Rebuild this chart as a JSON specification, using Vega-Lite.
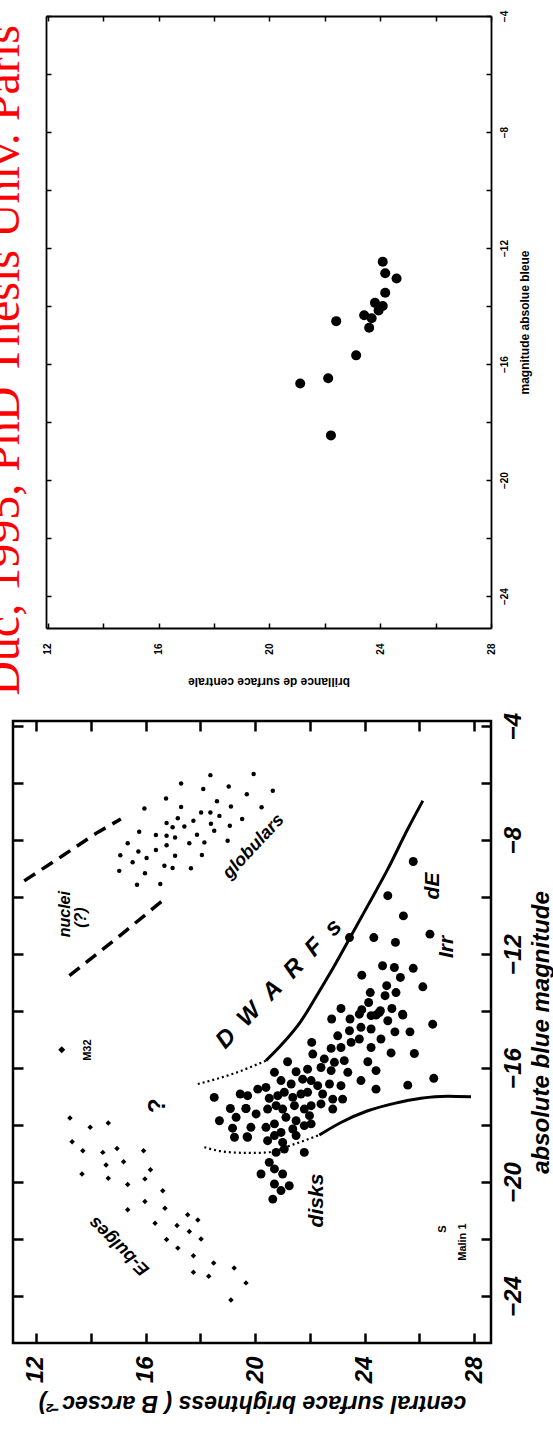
{
  "$schema": "https://vega.github.io/schema/vega-lite/v6.json",
  "background": "white",
  "padding": {"left": -20, "right": 0, "top": 10, "bottom": 6},
  "spacing": 15,
  "config": {"font": "Liberation Sans", "axis": {"tickColor": "black", "labelColor": "black", "titleColor": "black", "domainColor": "black", "grid": false, "domain": false, "labelFlush": false, "labelOverlap": false}},
  "datasets": {
    "fr": [
      {"x": 24.09, "y": -12.47}, {"x": 24.18, "y": -12.87}, {"x": 24.59, "y": -13.05}, {"x": 24.18, "y": -13.54},
      {"x": 23.81, "y": -13.89}, {"x": 24.09, "y": -14.0}, {"x": 23.94, "y": -14.15}, {"x": 23.42, "y": -14.32},
      {"x": 23.69, "y": -14.42}, {"x": 23.6, "y": -14.75}, {"x": 22.41, "y": -14.52}, {"x": 23.13, "y": -15.7},
      {"x": 21.11, "y": -16.67}, {"x": 22.12, "y": -16.49}, {"x": 22.22, "y": -18.46}
    ],
    "glob": [
      {"x": 18.37, "y": -5.72}, {"x": 17.3, "y": -6.01}, {"x": 18.11, "y": -6.21}, {"x": 19.04, "y": -6.12},
      {"x": 19.7, "y": -6.39}, {"x": 16.75, "y": -6.54}, {"x": 18.61, "y": -6.64}, {"x": 19.12, "y": -6.82},
      {"x": 17.3, "y": -6.84}, {"x": 15.96, "y": -6.89}, {"x": 18.03, "y": -7.03}, {"x": 18.37, "y": -7.03},
      {"x": 18.7, "y": -7.15}, {"x": 17.18, "y": -7.23}, {"x": 17.75, "y": -7.32}, {"x": 19.53, "y": -7.26},
      {"x": 16.77, "y": -7.4}, {"x": 18.39, "y": -7.43}, {"x": 16.99, "y": -7.55}, {"x": 17.42, "y": -7.52},
      {"x": 15.77, "y": -7.71}, {"x": 18.51, "y": -7.67}, {"x": 19.08, "y": -7.5}, {"x": 16.38, "y": -7.82},
      {"x": 16.77, "y": -7.85}, {"x": 17.08, "y": -7.91}, {"x": 17.88, "y": -7.81}, {"x": 15.35, "y": -8.11},
      {"x": 17.6, "y": -8.11}, {"x": 18.15, "y": -8.08}, {"x": 16.77, "y": -8.18}, {"x": 16.38, "y": -8.35},
      {"x": 15.74, "y": -8.4}, {"x": 15.08, "y": -8.53}, {"x": 17.08, "y": -8.55}, {"x": 18.06, "y": -8.52},
      {"x": 16.04, "y": -8.63}, {"x": 15.53, "y": -8.78}, {"x": 16.69, "y": -8.9}, {"x": 16.99, "y": -8.98},
      {"x": 17.66, "y": -8.99}, {"x": 15.04, "y": -9.08}, {"x": 15.98, "y": -9.16}, {"x": 15.69, "y": -9.57},
      {"x": 16.54, "y": -9.54}, {"x": 19.0, "y": -8.02}, {"x": 19.95, "y": -5.68}, {"x": 20.65, "y": -6.27},
      {"x": 20.24, "y": -6.85}
    ],
    "ebulge": [
      {"x": 13.24, "y": -17.75}, {"x": 13.98, "y": -18.08}, {"x": 14.64, "y": -17.93}, {"x": 13.32, "y": -18.59},
      {"x": 13.71, "y": -18.9}, {"x": 14.44, "y": -18.96}, {"x": 14.96, "y": -18.82}, {"x": 15.93, "y": -18.9},
      {"x": 14.56, "y": -19.4}, {"x": 15.2, "y": -19.29}, {"x": 13.68, "y": -19.72}, {"x": 14.64, "y": -19.87},
      {"x": 16.18, "y": -19.57}, {"x": 15.35, "y": -20.09}, {"x": 15.98, "y": -19.89}, {"x": 16.63, "y": -20.31},
      {"x": 15.98, "y": -20.68}, {"x": 15.35, "y": -20.97}, {"x": 16.71, "y": -20.92}, {"x": 17.54, "y": -21.15},
      {"x": 17.91, "y": -21.33}, {"x": 16.35, "y": -21.45}, {"x": 17.15, "y": -21.53}, {"x": 17.6, "y": -21.74},
      {"x": 18.03, "y": -22.0}, {"x": 16.77, "y": -22.02}, {"x": 17.18, "y": -22.32}, {"x": 17.75, "y": -22.59},
      {"x": 18.49, "y": -22.84}, {"x": 19.24, "y": -23.02}, {"x": 17.75, "y": -23.17}, {"x": 18.31, "y": -23.31},
      {"x": 19.67, "y": -23.54}, {"x": 19.12, "y": -24.14}
    ],
    "m32": [{"x": 12.94, "y": -15.36}],
    "dwarf": [
      {"x": 25.78, "y": -8.75}, {"x": 24.85, "y": -9.95}, {"x": 25.42, "y": -10.66}, {"x": 24.34, "y": -11.42},
      {"x": 23.45, "y": -11.42}, {"x": 25.13, "y": -11.59}, {"x": 26.39, "y": -11.3}, {"x": 24.66, "y": -12.41},
      {"x": 25.09, "y": -12.47}, {"x": 25.78, "y": -12.5}, {"x": 23.9, "y": -12.74}, {"x": 25.31, "y": -12.82},
      {"x": 26.13, "y": -13.15}, {"x": 24.81, "y": -13.11}, {"x": 24.21, "y": -13.35}, {"x": 25.15, "y": -13.35},
      {"x": 24.75, "y": -13.46}, {"x": 24.15, "y": -13.7}, {"x": 23.14, "y": -13.91}, {"x": 24.58, "y": -13.99},
      {"x": 25.0, "y": -13.91}, {"x": 25.39, "y": -14.11}, {"x": 24.42, "y": -14.14}, {"x": 23.9, "y": -13.95},
      {"x": 22.8, "y": -14.28}, {"x": 23.47, "y": -14.28}, {"x": 23.81, "y": -14.11}, {"x": 24.24, "y": -14.16},
      {"x": 24.54, "y": -14.05}, {"x": 24.85, "y": -14.34}, {"x": 25.4, "y": -14.14}, {"x": 26.49, "y": -14.46},
      {"x": 25.11, "y": -14.73}, {"x": 25.66, "y": -14.73}, {"x": 24.6, "y": -14.98}, {"x": 24.24, "y": -14.63},
      {"x": 23.87, "y": -14.57}, {"x": 23.45, "y": -14.69}, {"x": 23.02, "y": -14.87}, {"x": 22.07, "y": -15.1},
      {"x": 22.78, "y": -15.31}, {"x": 23.14, "y": -15.28}, {"x": 23.51, "y": -15.1}, {"x": 23.81, "y": -14.98},
      {"x": 24.24, "y": -15.28}, {"x": 24.97, "y": -15.47}, {"x": 25.82, "y": -15.49}, {"x": 22.11, "y": -15.51},
      {"x": 21.19, "y": -15.78}, {"x": 22.53, "y": -15.68}, {"x": 22.9, "y": -15.8}, {"x": 23.26, "y": -15.74},
      {"x": 24.12, "y": -15.78}, {"x": 20.71, "y": -16.15}, {"x": 21.5, "y": -16.13}, {"x": 21.92, "y": -16.04},
      {"x": 22.41, "y": -15.98}, {"x": 22.78, "y": -16.09}, {"x": 23.39, "y": -16.15}, {"x": 24.42, "y": -16.09},
      {"x": 23.87, "y": -16.44}, {"x": 24.42, "y": -16.74}, {"x": 25.58, "y": -16.6}, {"x": 26.53, "y": -16.36},
      {"x": 20.1, "y": -16.74}, {"x": 20.4, "y": -16.68}, {"x": 20.95, "y": -16.44}, {"x": 21.32, "y": -16.56},
      {"x": 21.74, "y": -16.39}, {"x": 22.05, "y": -16.44}, {"x": 22.29, "y": -16.62}, {"x": 22.72, "y": -16.56},
      {"x": 23.14, "y": -16.62}, {"x": 19.73, "y": -16.97}, {"x": 20.52, "y": -17.06}, {"x": 20.83, "y": -16.97},
      {"x": 21.07, "y": -16.85}, {"x": 21.38, "y": -17.03}, {"x": 21.68, "y": -16.91}, {"x": 21.92, "y": -16.85},
      {"x": 22.47, "y": -16.91}, {"x": 22.84, "y": -17.09}, {"x": 23.2, "y": -17.09}, {"x": 19.67, "y": -17.42},
      {"x": 20.04, "y": -17.61}, {"x": 20.46, "y": -17.44}, {"x": 20.77, "y": -17.32}, {"x": 21.01, "y": -17.44},
      {"x": 21.44, "y": -17.32}, {"x": 21.8, "y": -17.44}, {"x": 22.05, "y": -17.32}, {"x": 22.41, "y": -17.26},
      {"x": 22.84, "y": -17.44}, {"x": 19.85, "y": -18.08}, {"x": 20.4, "y": -18.08}, {"x": 20.71, "y": -17.96},
      {"x": 21.13, "y": -17.73}, {"x": 21.5, "y": -17.85}, {"x": 21.99, "y": -17.67}, {"x": 20.95, "y": -18.26},
      {"x": 20.71, "y": -18.37}, {"x": 21.38, "y": -18.14}, {"x": 21.8, "y": -18.02}, {"x": 22.05, "y": -17.96},
      {"x": 19.73, "y": -18.43}, {"x": 20.46, "y": -18.55}, {"x": 21.01, "y": -18.61}, {"x": 21.5, "y": -18.37},
      {"x": 21.8, "y": -18.96}, {"x": 20.77, "y": -18.96}, {"x": 21.07, "y": -18.84}, {"x": 20.52, "y": -19.31},
      {"x": 20.71, "y": -19.54}, {"x": 20.22, "y": -19.72}, {"x": 21.01, "y": -19.72}, {"x": 21.25, "y": -20.13},
      {"x": 20.71, "y": -20.07}, {"x": 20.95, "y": -20.3}, {"x": 20.65, "y": -20.6},
      {"x": 18.51, "y": -17.03}, {"x": 19.46, "y": -16.91}, {"x": 19.1, "y": -17.42}, {"x": 19.67, "y": -17.42},
      {"x": 18.7, "y": -17.85}, {"x": 19.31, "y": -17.73}, {"x": 19.18, "y": -18.11}, {"x": 19.25, "y": -18.43},
      {"x": 19.71, "y": -18.41}
    ],
    "solid": [
      {"seg": "upper", "i": 0, "x": 20.4, "y": -15.74}, {"seg": "upper", "i": 1, "x": 21.0, "y": -15.15},
      {"seg": "upper", "i": 2, "x": 21.68, "y": -14.35}, {"seg": "upper", "i": 3, "x": 22.29, "y": -13.4},
      {"seg": "upper", "i": 4, "x": 22.9, "y": -12.41}, {"seg": "upper", "i": 5, "x": 23.51, "y": -11.36},
      {"seg": "upper", "i": 6, "x": 24.12, "y": -10.3}, {"seg": "upper", "i": 7, "x": 24.85, "y": -9.02},
      {"seg": "upper", "i": 8, "x": 25.58, "y": -7.61}, {"seg": "upper", "i": 9, "x": 26.13, "y": -6.62},
      {"seg": "lower", "i": 0, "x": 22.35, "y": -18.35}, {"seg": "lower", "i": 1, "x": 23.14, "y": -17.91},
      {"seg": "lower", "i": 2, "x": 24.12, "y": -17.5}, {"seg": "lower", "i": 3, "x": 25.09, "y": -17.24},
      {"seg": "lower", "i": 4, "x": 26.06, "y": -17.06}, {"seg": "lower", "i": 5, "x": 27.04, "y": -16.99},
      {"seg": "lower", "i": 6, "x": 27.89, "y": -17.01}
    ],
    "dotted": [
      {"seg": "upper", "i": 0, "x": 17.91, "y": -16.56}, {"seg": "upper", "i": 1, "x": 19.2, "y": -16.2},
      {"seg": "upper", "i": 2, "x": 20.4, "y": -15.74},
      {"seg": "lower", "i": 0, "x": 18.15, "y": -18.78}, {"seg": "lower", "i": 1, "x": 19.0, "y": -18.95},
      {"seg": "lower", "i": 2, "x": 19.85, "y": -18.98}, {"seg": "lower", "i": 3, "x": 20.46, "y": -18.96},
      {"seg": "lower", "i": 4, "x": 21.44, "y": -18.67}, {"seg": "lower", "i": 5, "x": 22.35, "y": -18.35}
    ],
    "dashed": [
      {"seg": "upper", "i": 0, "x": 11.57, "y": -9.43}, {"seg": "upper", "i": 1, "x": 12.97, "y": -8.55},
      {"seg": "upper", "i": 2, "x": 14.25, "y": -7.73}, {"seg": "upper", "i": 3, "x": 15.1, "y": -7.26},
      {"seg": "lower", "i": 0, "x": 13.22, "y": -12.76}, {"seg": "lower", "i": 1, "x": 14.98, "y": -11.42},
      {"seg": "lower", "i": 2, "x": 16.77, "y": -10.01}
    ],
    "labels": [
      {"label": "globulars", "x": 19.95, "y": -8.23},
      {"label": "E-bulges", "x": 15.04, "y": -22.24},
      {"label": "D\u00a0\u00a0W\u00a0\u00a0A\u00a0\u00a0R\u00a0\u00a0F\u00a0\u00a0s", "x": 20.88, "y": -13.05},
      {"label": "dE", "x": 26.5, "y": -9.61},
      {"label": "Irr", "x": 27.01, "y": -11.75},
      {"label": "disks", "x": 22.25, "y": -20.65},
      {"label": "?", "x": 16.44, "y": -17.32},
      {"label": "nuclei", "x": 13.06, "y": -10.6},
      {"label": "(?)", "x": 13.64, "y": -10.72},
      {"label": "M32", "x": 13.9, "y": -15.37},
      {"label": "Malin 1", "x": 27.6, "y": -22.11},
      {"label": "S", "x": 26.86, "y": -21.65}
    ]
  },
  "vconcat": [
    {
      "width": 478,
      "height": 612,
      "view": {"stroke": null},
      "data": {"name": "fr"},
      "layer": [
        {
          "mark": {"type": "circle", "size": 100, "color": "black", "opacity": 1},
          "encoding": {
            "x": {"field": "x", "type": "quantitative", "scale": {"domain": [11.93, 28], "range": [33, 478], "nice": false, "zero": false},
              "axis": {"orient": "bottom", "values": [12, 14, 16, 18, 20, 22, 24, 26, 28], "labelExpr": "datum.value % 4 === 0 ? datum.label : ''",
                "domain": true, "domainWidth": 1.8,
                "labelAngle": -90, "labelAlign": "right", "labelBaseline": "middle", "labelFontSize": 10, "labelFontWeight": "bold", "labelPadding": 20,
                "tickSize": -5, "tickWidth": 1.5, "title": "brillance de surface centrale", "titleAngle": 180, "titleBaseline": "bottom",
                "titleFontSize": 12, "titleFontWeight": "bold", "titlePadding": 20}},
            "y": {"field": "y", "type": "quantitative", "scale": {"domain": [-25.1, -4], "nice": false, "zero": false},
              "axis": {"orient": "right", "values": [-24, -22, -20, -18, -16, -14, -12, -10, -8, -6, -4], "labelExpr": "datum.value % 4 === 0 ? datum.label : ''",
                "domain": true, "domainWidth": 1.8,
                "labelAngle": -90, "labelAlign": "center", "labelBaseline": "top", "labelFontSize": 10, "labelFontWeight": "bold", "labelPadding": 13,
                "tickSize": -5, "tickWidth": 1.5, "title": "magnitude absolue bleue", "titleAngle": 270, "titleBaseline": "top",
                "titleFontSize": 12, "titleFontWeight": "bold", "titlePadding": 10}}
          }
        },
        {
          "mark": {"type": "point", "opacity": 0},
          "encoding": {
            "x": {"field": "x", "type": "quantitative", "scale": {"domain": [11.93, 28], "range": [33, 478], "nice": false, "zero": false},
              "axis": {"orient": "top", "values": [12, 14, 16, 18, 20, 22, 24, 26, 28], "labels": false, "domain": true, "domainWidth": 1.8, "tickSize": -5, "tickWidth": 1.5, "title": null}},
            "y": {"field": "y", "type": "quantitative", "scale": {"domain": [-25.1, -4], "nice": false, "zero": false},
              "axis": {"orient": "left", "offset": -33, "values": [-24, -22, -20, -18, -16, -14, -12, -10, -8, -6, -4], "labels": false,
                "domain": true, "domainWidth": 1.8, "tickSize": -5, "tickWidth": 1.5,
                "title": "Duc, 1995, PhD Thesis Univ. Paris", "titleColor": "#ff0000", "titleFont": "Liberation Serif", "titleFontSize": 48,
                "titleFontWeight": "normal", "titlePadding": 17, "titleY": 344, "titleAlign": "center"}}
          }
        }
      ]
    },
    {
      "width": 478,
      "height": 622,
      "view": {"stroke": "black", "strokeWidth": 2.5},
      "encoding": {
        "x": {"field": "x", "type": "quantitative", "scale": {"domain": [11.16, 28.62], "nice": false, "zero": false}, "axis": null},
        "y": {"field": "y", "type": "quantitative", "scale": {"domain": [-25.65, -3.82], "nice": false, "zero": false}, "axis": null}
      },
      "layer": [
        {
          "data": {"name": "glob"},
          "mark": {"type": "circle", "size": 20, "color": "black", "opacity": 1},
          "encoding": {
            "x": {"field": "x", "type": "quantitative", "scale": {"domain": [11.16, 28.62], "nice": false, "zero": false},
              "axis": {"orient": "bottom", "values": [12, 14, 16, 18, 20, 22, 24, 26, 28], "labelExpr": "datum.value % 4 === 0 ? datum.label : ''",
                "labelAngle": -90, "labelAlign": "right", "labelBaseline": "middle", "labelFontSize": 24, "labelFontWeight": "bold", "labelFontStyle": "italic", "labelPadding": 23,
                "tickSize": -10, "tickWidth": 2.5, "title": "central surface brightness ( B arcsec⁻²)", "titleAngle": 180, "titleBaseline": "bottom",
                "titleFontSize": 23, "titleFontWeight": "bold", "titleFontStyle": "italic", "titlePadding": 8}},
            "y": {"field": "y", "type": "quantitative", "scale": {"domain": [-25.65, -3.82], "nice": false, "zero": false},
              "axis": {"orient": "right", "values": [-24, -22, -20, -18, -16, -14, -12, -10, -8, -6, -4], "labelExpr": "datum.value % 4 === 0 ? datum.label : ''",
                "labelAngle": -90, "labelAlign": "center", "labelBaseline": "top", "labelFontSize": 24, "labelFontWeight": "bold", "labelFontStyle": "italic", "labelPadding": 20,
                "tickSize": -10, "tickWidth": 2.5, "title": "absolute blue magnitude", "titleAngle": 270, "titleBaseline": "top",
                "titleFontSize": 24, "titleFontWeight": "bold", "titleFontStyle": "italic", "titlePadding": 4}}
          }
        },
        {
          "data": {"name": "ebulge"},
          "mark": {"type": "point", "shape": "diamond", "filled": true, "size": 30, "color": "black", "opacity": 1},
          "encoding": {
            "x": {"field": "x", "type": "quantitative", "scale": {"domain": [11.16, 28.62], "nice": false, "zero": false},
              "axis": {"orient": "top", "values": [12, 14, 16, 18, 20, 22, 24, 26, 28], "labels": false, "tickSize": -10, "tickWidth": 2.5, "title": null}},
            "y": {"field": "y", "type": "quantitative", "scale": {"domain": [-25.65, -3.82], "nice": false, "zero": false},
              "axis": {"orient": "left", "values": [-24, -22, -20, -18, -16, -14, -12, -10, -8, -6, -4], "labels": false, "tickSize": -10, "tickWidth": 2.5, "title": null}}
          }
        },
        {"data": {"name": "dwarf"}, "mark": {"type": "circle", "size": 80, "color": "black", "opacity": 1}},
        {"data": {"name": "m32"}, "mark": {"type": "point", "shape": "diamond", "filled": true, "size": 50, "color": "black", "opacity": 1}},
        {"data": {"name": "solid"}, "mark": {"type": "line", "color": "black", "strokeWidth": 3, "interpolate": "monotone"},
          "encoding": {"detail": {"field": "seg"}, "order": {"field": "i"}}},
        {"data": {"name": "dotted"}, "mark": {"type": "line", "color": "black", "strokeWidth": 2.2, "strokeDash": [2, 3], "interpolate": "monotone"},
          "encoding": {"detail": {"field": "seg"}, "order": {"field": "i"}}},
        {"data": {"name": "dashed"}, "mark": {"type": "line", "color": "black", "strokeWidth": 3.5, "strokeDash": [13, 8]},
          "encoding": {"detail": {"field": "seg"}, "order": {"field": "i"}}},
        {"data": {"name": "labels"}, "transform": [{"filter": {"field": "label", "oneOf": ["dE", "Irr", "disks"]}}],
          "mark": {"type": "text", "angle": 270, "fontSize": 21, "fontStyle": "italic", "fontWeight": "bold", "color": "black", "align": "center", "baseline": "middle"},
          "encoding": {"text": {"field": "label"}}},
        {"data": {"name": "labels"}, "transform": [{"filter": {"field": "label", "oneOf": ["?"]}}],
          "mark": {"type": "text", "angle": 270, "fontSize": 24, "fontWeight": "bold", "color": "black", "align": "center", "baseline": "middle"},
          "encoding": {"text": {"field": "label"}}},
        {"data": {"name": "labels"}, "transform": [{"filter": {"field": "label", "oneOf": ["nuclei", "(?)"]}}],
          "mark": {"type": "text", "angle": 270, "fontSize": 16, "fontStyle": "italic", "fontWeight": "bold", "color": "black", "align": "center", "baseline": "middle"},
          "encoding": {"text": {"field": "label"}}},
        {"data": {"name": "labels"}, "transform": [{"filter": {"field": "label", "oneOf": ["M32", "Malin 1", "S"]}}],
          "mark": {"type": "text", "angle": 270, "fontSize": 11, "fontWeight": "bold", "color": "black", "align": "center", "baseline": "middle"},
          "encoding": {"text": {"field": "label"}}},
        {"data": {"name": "labels"}, "transform": [{"filter": {"field": "label", "oneOf": ["globulars"]}}],
          "mark": {"type": "text", "angle": 313, "fontSize": 18, "fontStyle": "italic", "fontWeight": "bold", "color": "black", "align": "center", "baseline": "middle"},
          "encoding": {"text": {"field": "label"}}},
        {"data": {"name": "labels"}, "transform": [{"filter": {"field": "label", "oneOf": ["E-bulges"]}}],
          "mark": {"type": "text", "angle": 224, "fontSize": 18, "fontStyle": "italic", "fontWeight": "bold", "color": "black", "align": "center", "baseline": "middle"},
          "encoding": {"text": {"field": "label"}}},
        {"data": {"name": "labels"}, "transform": [{"filter": {"field": "label", "oneOf": ["D\u00a0\u00a0W\u00a0\u00a0A\u00a0\u00a0R\u00a0\u00a0F\u00a0\u00a0s"]}}],
          "mark": {"type": "text", "angle": 314, "fontSize": 24, "fontStyle": "italic", "fontWeight": "bold", "color": "black", "align": "center", "baseline": "middle"},
          "encoding": {"text": {"field": "label"}}}
      ]
    }
  ]
}
